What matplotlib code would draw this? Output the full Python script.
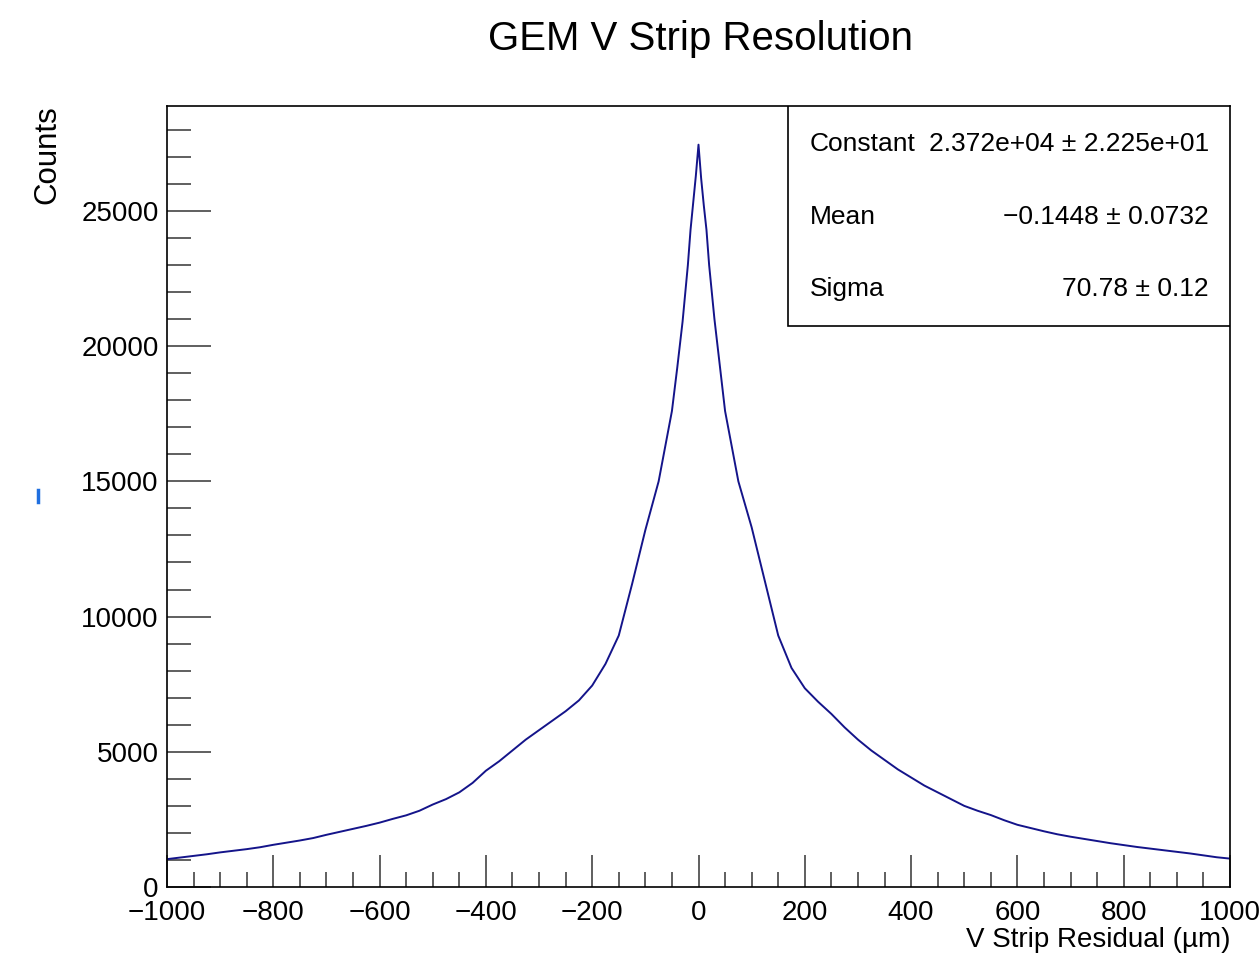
import matplotlib
matplotlib.use("Agg")
import matplotlib.pyplot as plt
from matplotlib.ticker import MultipleLocator
from matplotlib.lines import Line2D

plt.rcParams['font.family'] = ['Liberation Sans', 'DejaVu Sans']

# Residual positions (um) and counts
residual_um = [
    -1000, -975, -950, -925, -900, -875, -850, -825, -800, -775, -750, -725,
    -700, -675, -650, -625, -600, -575, -550, -525, -500, -475, -450, -425,
    -400, -375, -350, -325, -300, -275, -250, -225, -200, -175, -150, -125,
    -100, -75, -50, -40, -30, -20, -15, -10, -5, 0,
    5, 10, 15, 20, 30, 40, 50, 75, 100, 125, 150, 175, 200, 225, 250, 275,
    300, 325, 350, 375, 400, 425, 450, 475, 500, 525, 550, 575, 600, 625,
    650, 675, 700, 725, 750, 775, 800, 825, 850, 875, 900, 925, 950, 975, 1000,
]
counts = [
    1030, 1090, 1150, 1210, 1280, 1340, 1400, 1470, 1560, 1640, 1720, 1810,
    1930, 2040, 2150, 2260, 2380, 2520, 2650, 2820, 3050, 3250, 3500, 3850,
    4300, 4650, 5050, 5450, 5800, 6150, 6500, 6900, 7450, 8250, 9300, 11200,
    13200, 15000, 17600, 19200, 20900, 23000, 24300, 25300, 26300, 27450,
    26200, 25200, 24300, 23000, 21000, 19300, 17600, 15000, 13300, 11300, 9300, 8100, 7350, 6850, 6400, 5900,
    5450, 5050, 4700, 4350, 4050, 3750, 3500, 3250, 3000, 2820, 2660, 2470, 2300, 2180,
    2060, 1950, 1860, 1780, 1700, 1620, 1550, 1480, 1420, 1360, 1300, 1240, 1170, 1100, 1050,
]

title = "GEM V Strip Resolution"
xlabel = "V Strip Residual (\u00b5m)"
ylabel = "Counts"
stat_names = ["Constant", "Mean", "Sigma"]
stat_values = ["2.372e+04 \u00b1 2.225e+01", "\u22120.1448 \u00b1 0.0732", "70.78 \u00b1 0.12"]

W, H = 1259, 957
fig = plt.figure(figsize=(W / 100, H / 100), dpi=100)
ax = fig.add_axes([167 / W, 1 - 887 / H, (1230 - 167) / W, (887 - 106) / H])

ax.plot(residual_um, counts, color='#14148a', lw=1.4)

ax.set_xlim(-1000, 1000)
ax.set_ylim(0, 28880)

ax.xaxis.set_major_locator(MultipleLocator(200))
ax.xaxis.set_minor_locator(MultipleLocator(50))
ax.yaxis.set_major_locator(MultipleLocator(5000))
ax.yaxis.set_minor_locator(MultipleLocator(1000))

tick_col = '#444444'
ax.tick_params(axis='x', which='major', direction='in', length=23, width=1.2,
               color=tick_col, labelsize=20, pad=9, top=False)
ax.tick_params(axis='x', which='minor', direction='in', length=11, width=1.2,
               color=tick_col, top=False)
ax.tick_params(axis='y', which='major', direction='in', length=32, width=1.2,
               color=tick_col, labelsize=20, pad=6, right=False)
ax.tick_params(axis='y', which='minor', direction='in', length=17, width=1.2,
               color=tick_col, right=False)

def fmt(v, pos=None):
    s = f"{int(round(v))}"
    return s.replace('-', '\u2212')
ax.xaxis.set_major_formatter(plt.FuncFormatter(fmt))
ax.yaxis.set_major_formatter(plt.FuncFormatter(fmt))

for sp in ax.spines.values():
    sp.set_linewidth(1.2)
    sp.set_color('black')

fig.text(700 / W, 1 - 50 / H, title, ha='center', va='baseline', fontsize=29)
fig.text(1230 / W, 1 - 940 / H, xlabel, ha='right', va='center', fontsize=20)
fig.text(47 / W, 1 - 105 / H, ylabel, ha='center', va='top', rotation=90, fontsize=22.5)

# stats box
bx0 = (788 - 167) / (1230 - 167)
by0 = (887 - 326) / (887 - 106)
ax.add_patch(plt.Rectangle((bx0, by0), 1 - bx0, 1 - by0, transform=ax.transAxes,
                           facecolor='white', edgecolor='black', lw=1.2, zorder=5))
rows_y = [144, 217, 289]
for name, val, yp in zip(stat_names, stat_values, rows_y):
    fig.text(810 / W, 1 - yp / H, name, ha='left', va='center', fontsize=19, zorder=6)
    fig.text(1209 / W, 1 - yp / H, val, ha='right', va='center', fontsize=19, zorder=6)

# small blue artifact at left
fig.add_artist(Line2D([38 / W, 38 / W], [1 - 490 / H, 1 - 502 / H],
                      color='#1f6fe0', lw=2.5))

fig.savefig('out.png', dpi=100)
